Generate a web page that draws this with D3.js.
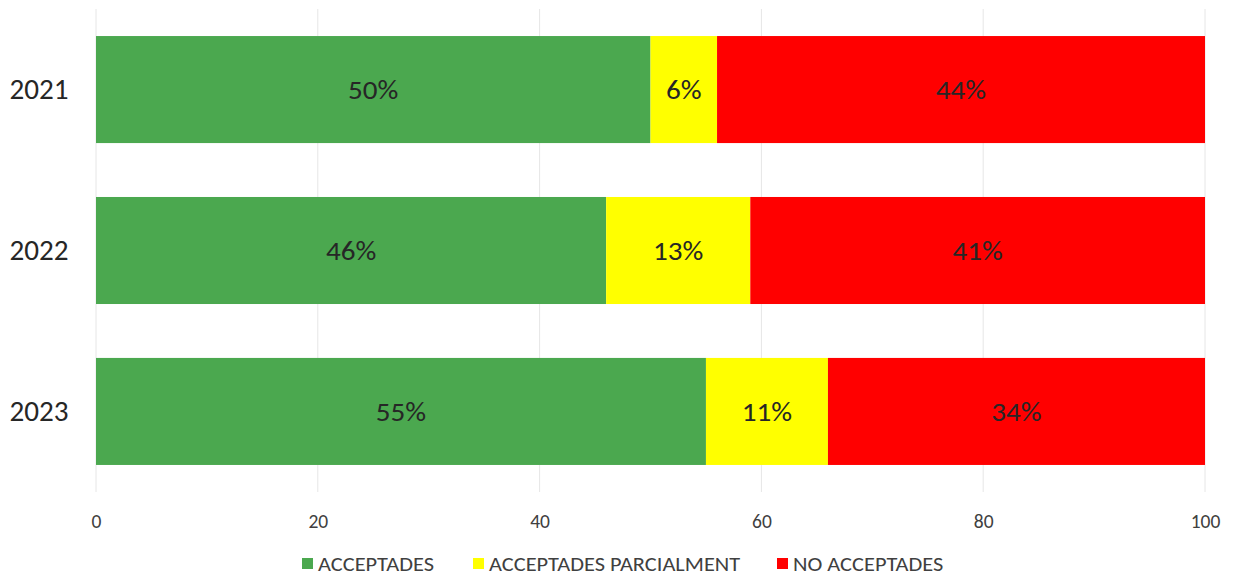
<!DOCTYPE html>
<html>
<head>
<meta charset="utf-8">
<script src="https://cdn.jsdelivr.net/npm/d3@7"></script>
<style>
  html, body { margin: 0; padding: 0; background: #fff; }
  svg { display: block; font-family: Carlito, Calibri, Lato, sans-serif; }
</style>
</head>
<body>
<svg id="chart" width="1233" height="575"></svg>
<script>
// Years shown on the vertical axis
const years = ["2021", "2022", "2023"];
// Share of each outcome per year (percent)
const acceptades = [50, 46, 55];
const acceptadesParcialment = [6, 13, 11];
const noAcceptades = [44, 41, 34];
// Series names and colours
const seriesNames = ["ACCEPTADES", "ACCEPTADES PARCIALMENT", "NO ACCEPTADES"];
const seriesColors = ["#4BA84F", "#FFFF00", "#FF0000"];
// Horizontal axis ticks
const xTicks = [0, 20, 40, 60, 80, 100];

const svg = d3.select("#chart");
const margin = { left: 96, right: 28, top: 9, bottom: 83 };
const W = 1233, H = 575;

const x = d3.scaleLinear().domain([0, 100]).range([margin.left, W - margin.right]);
const y = d3.scaleBand().domain(years).range([margin.top, H - margin.bottom]).paddingInner(0.335).paddingOuter(0.168);

// gridlines
svg.append("g")
  .selectAll("line")
  .data(xTicks)
  .join("line")
  .attr("x1", d => x(d)).attr("x2", d => x(d))
  .attr("y1", margin.top).attr("y2", H - margin.bottom)
  .attr("stroke", "#E6E6E6").attr("stroke-width", 1);

// stack data
const table = years.map((yr, i) => ({
  year: yr,
  [seriesNames[0]]: acceptades[i],
  [seriesNames[1]]: acceptadesParcialment[i],
  [seriesNames[2]]: noAcceptades[i]
}));
const stacked = d3.stack().keys(seriesNames)(table);

const layers = svg.append("g").selectAll("g")
  .data(stacked)
  .join("g")
  .attr("fill", (d, i) => seriesColors[i]);

layers.selectAll("rect")
  .data(d => d)
  .join("rect")
  .attr("x", d => x(d[0]))
  .attr("width", d => x(d[1]) - x(d[0]))
  .attr("y", d => y(d.data.year))
  .attr("height", y.bandwidth());

// value labels (slightly widened glyphs)
layers.selectAll("text")
  .data(d => d.map(v => ({ v, key: d.key })))
  .join("text")
  .attr("transform", d => `translate(${(x(d.v[0]) + x(d.v[1])) / 2}, ${y(d.v.data.year) + y.bandwidth() / 2}) scale(1.12, 1)`)
  .attr("dy", "0.35em")
  .attr("text-anchor", "middle")
  .attr("fill", "#262626")
  .attr("font-size", 26)
  .text(d => (d.v[1] - d.v[0]) + "%");

// year labels
svg.append("g")
  .selectAll("text")
  .data(years)
  .join("text")
  .attr("transform", d => `translate(39, ${y(d) + y.bandwidth() / 2}) scale(1.04, 1)`)
  .attr("dy", "0.35em")
  .attr("text-anchor", "middle")
  .attr("fill", "#262626")
  .attr("font-size", 28)
  .text(d => d);

// x axis tick labels
const xAxis = d3.axisBottom(x).tickValues(xTicks).tickSize(0).tickPadding(0);
const gx = svg.append("g")
  .attr("transform", `translate(0, ${H - margin.bottom})`)
  .call(xAxis);
gx.select(".domain").remove();
gx.selectAll("text")
  .attr("font-family", "Carlito, Calibri, Lato, sans-serif")
  .attr("font-size", 19.5)
  .attr("fill", "#404040")
  .attr("dy", "0.35em")
  .attr("y", 29);

// legend
const legendX = [302, 473, 777];
const legend = svg.append("g").selectAll("g")
  .data(seriesNames)
  .join("g")
  .attr("transform", (d, i) => `translate(${legendX[i]}, 563.5)`);
legend.append("rect")
  .attr("x", 0).attr("y", -5.5).attr("width", 11).attr("height", 11)
  .attr("fill", (d, i) => seriesColors[i]);
legend.append("text")
  .attr("transform", "translate(16, 0) scale(1.12, 1)")
  .attr("dy", "0.35em")
  .attr("font-size", 20)
  .attr("fill", "#404040")
  .text(d => d);
</script>
</body>
</html>
